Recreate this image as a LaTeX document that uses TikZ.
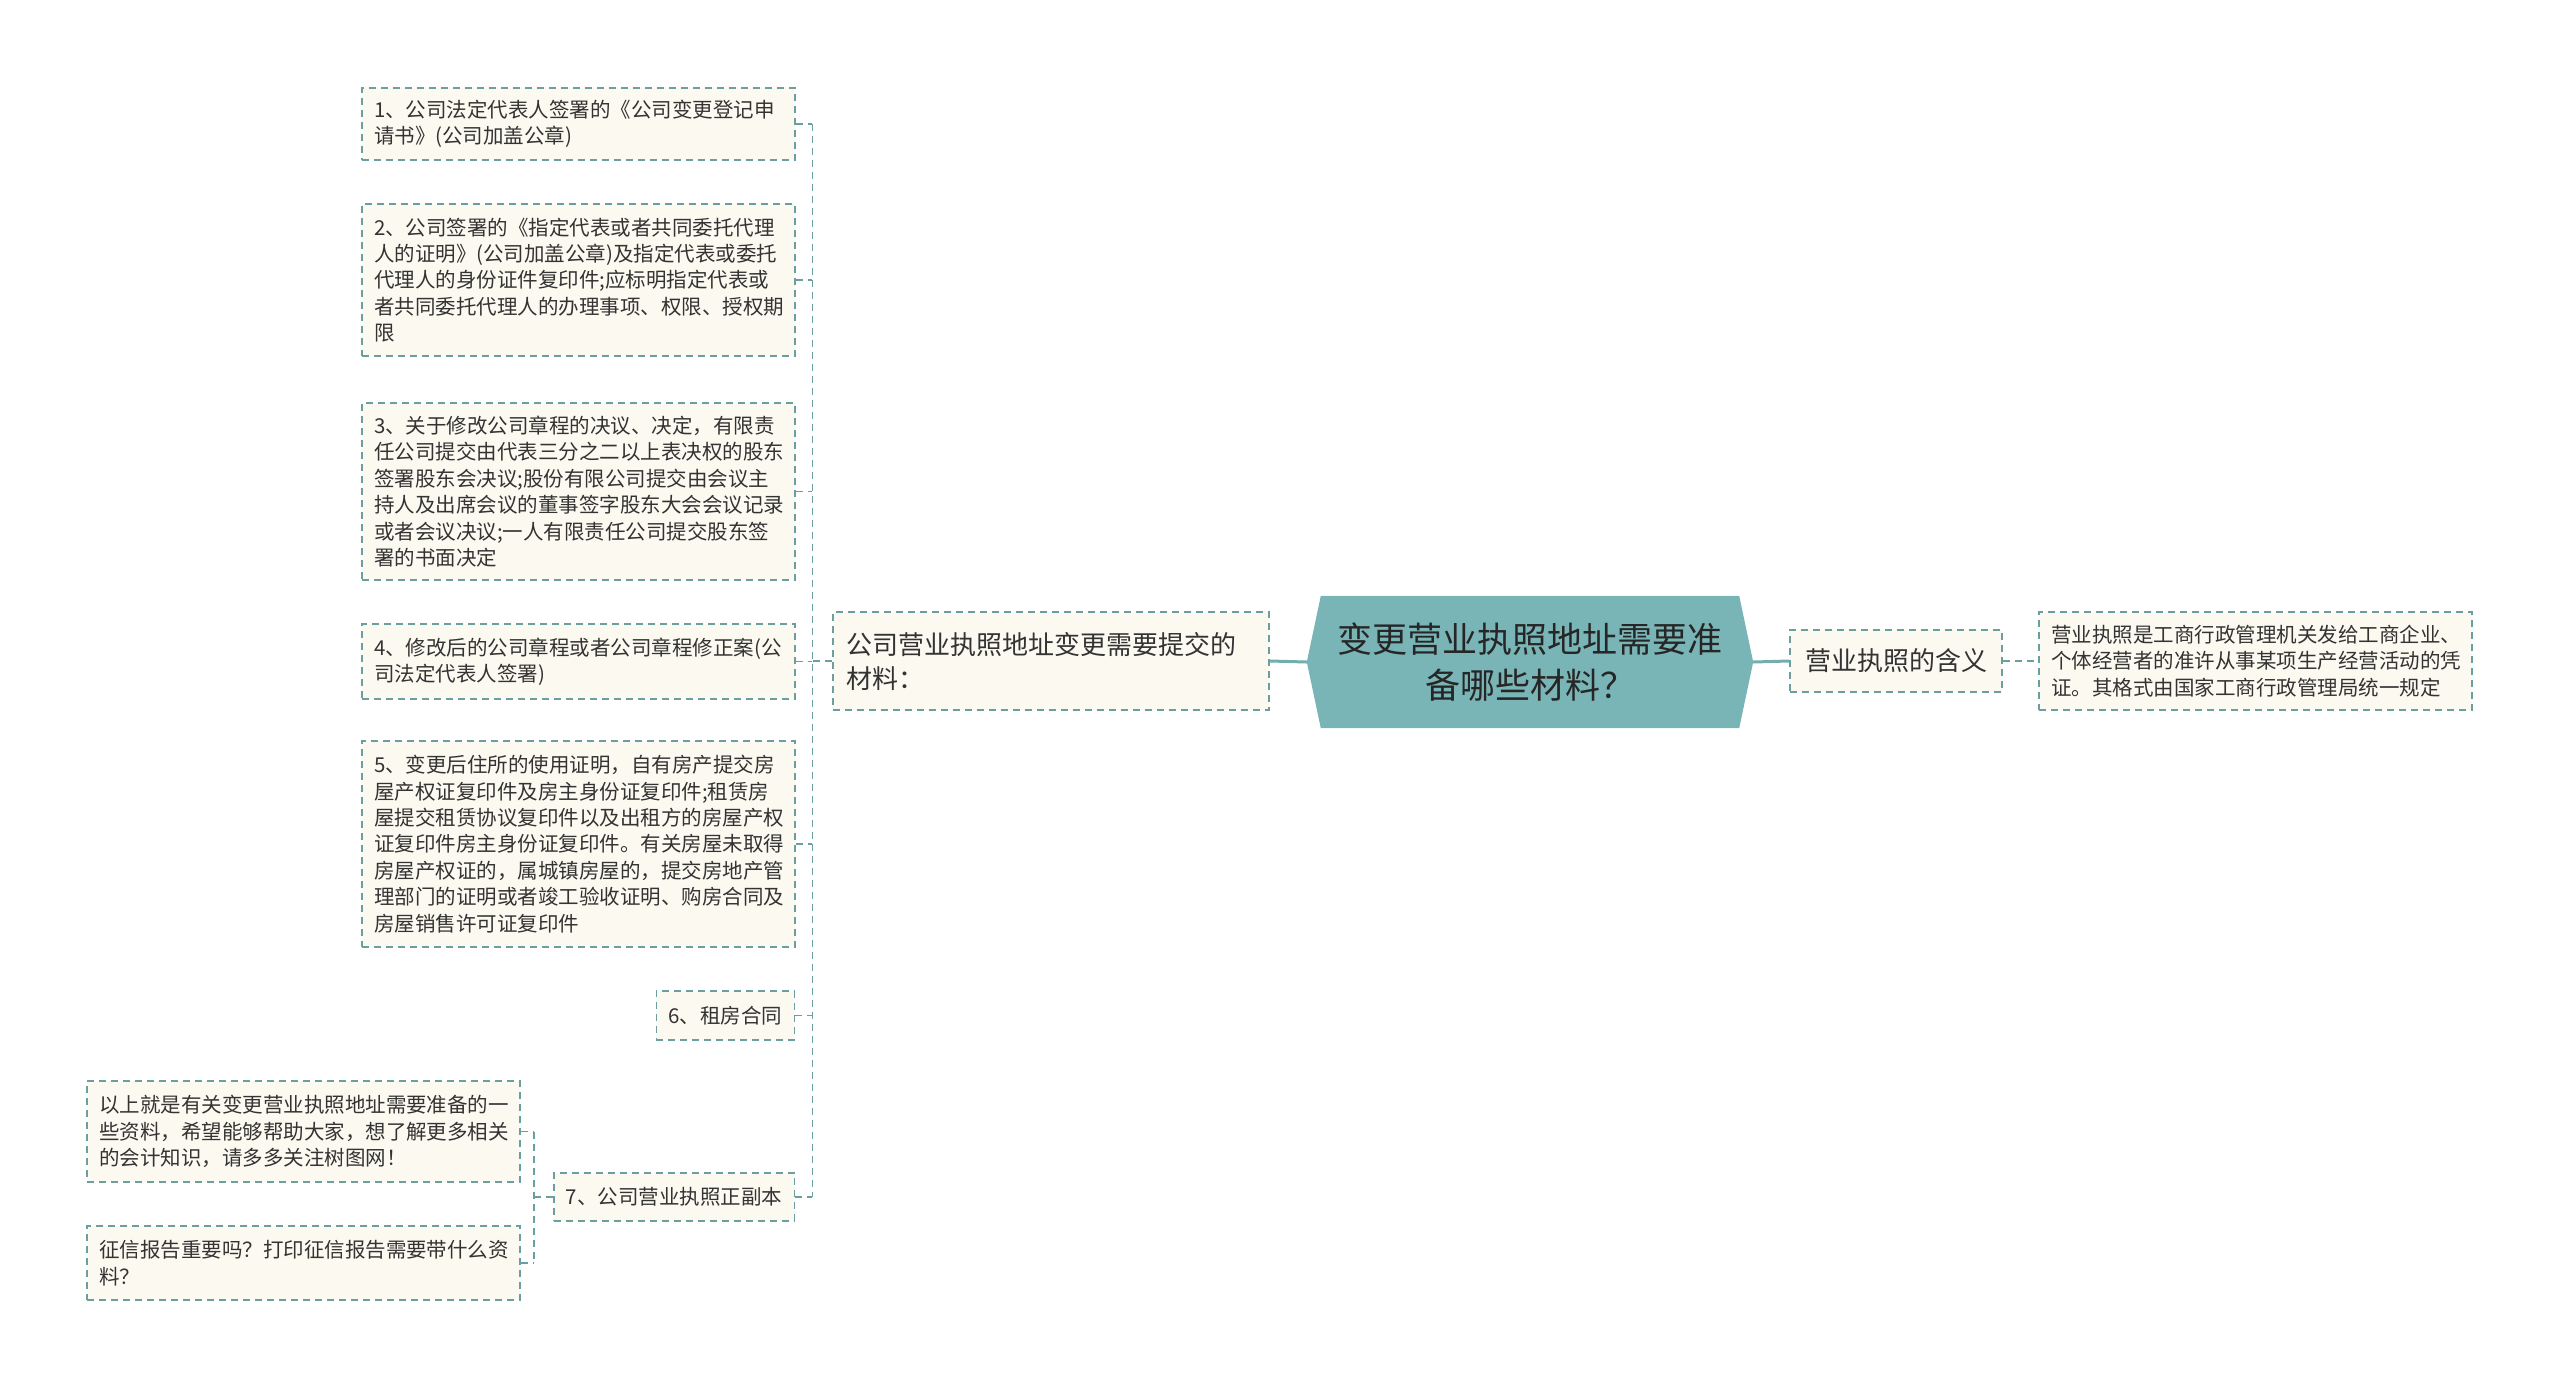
\documentclass[tikz,border=0pt]{standalone}
\usepackage{fontspec}
\setmainfont{Noto Sans CJK SC}
\usetikzlibrary{backgrounds}
\definecolor{dcol}{HTML}{6A9E9F}
\definecolor{rootfill}{HTML}{79B4B6}
\definecolor{solidcol}{HTML}{72ADAF}
\definecolor{boxfill}{HTML}{FBF9F0}
\definecolor{txt}{HTML}{333333}
\tikzset{
  dbox/.style={draw=dcol, line width=1.5pt, dash pattern=on 7pt off 5pt, fill=boxfill, text=txt, inner ysep=3pt},
  leaf/.style={dbox, text width=409pt, inner xsep=12pt, align=left, font=\fontsize{20.5pt}{26.4pt}\selectfont},
  smallleaf/.style={dbox, inner xsep=12pt, align=left, font=\fontsize{20.5pt}{26.4pt}\selectfont},
  midbox/.style={dbox, inner xsep=13pt, align=left, font=\fontsize{26pt}{34pt}\selectfont},
  rootnode/.style={minimum width=418pt, minimum height=132pt, inner sep=0pt, align=center, text=black!85, font=\fontsize{35pt}{46pt}\selectfont},
  conn/.style={draw=dcol, line width=1.5pt, dash pattern=on 7pt off 5pt},
  sconn/.style={draw=solidcol, line width=3pt}
}
\begin{document}
\begin{tikzpicture}[x=1pt,y=-1pt]
\useasboundingbox (0,0) rectangle (2560,1387);
% root
\node[rootnode] (root) at (1530,662) {变更营业执照地址需要准\\备哪些材料？};
\begin{scope}[on background layer]
\fill[rootfill] (root.north west) -- (root.north east) -- ([xshift=14pt]root.east) -- (root.south east) -- (root.south west) -- ([xshift=-14pt]root.west) -- cycle;
\end{scope}
% level 1
\node[midbox, text width=410pt, minimum height=98pt] (mL) at (1051,661) {公司营业执照地址变更需要提交的\\材料：};
\node[midbox, inner xsep=15pt, minimum height=62pt] (mR) at (1896,661) {营业执照的含义};
% right leaf
\node[leaf, minimum height=98pt] (rl) at (2255.5,661) {营业执照是工商行政管理机关发给工商企业、\\个体经营者的准许从事某项生产经营活动的凭\\证。其格式由国家工商行政管理局统一规定};
% left leaves
\node[leaf, minimum height=72pt] (l1) at (578.5,124) {1、公司法定代表人签署的《公司变更登记申\\请书》(公司加盖公章)};
\node[leaf, minimum height=152pt] (l2) at (578.5,280) {2、公司签署的《指定代表或者共同委托代理\\人的证明》(公司加盖公章)及指定代表或委托\\代理人的身份证件复印件;应标明指定代表或\\者共同委托代理人的办理事项、权限、授权期\\限};
\node[leaf, minimum height=177pt] (l3) at (578.5,491.5) {3、关于修改公司章程的决议、决定，有限责\\任公司提交由代表三分之二以上表决权的股东\\签署股东会决议;股份有限公司提交由会议主\\持人及出席会议的董事签字股东大会会议记录\\或者会议决议;一人有限责任公司提交股东签\\署的书面决定};
\node[leaf, minimum height=75pt] (l4) at (578.5,661.5) {4、修改后的公司章程或者公司章程修正案(公\\司法定代表人签署)};
\node[leaf, minimum height=206pt] (l5) at (578.5,844) {5、变更后住所的使用证明，自有房产提交房\\屋产权证复印件及房主身份证复印件;租赁房\\屋提交租赁协议复印件以及出租方的房屋产权\\证复印件房主身份证复印件。有关房屋未取得\\房屋产权证的，属城镇房屋的，提交房地产管\\理部门的证明或者竣工验收证明、购房合同及\\房屋销售许可证复印件};
\node[smallleaf, minimum height=49pt, anchor=east] (l6) at (795,1015.5) {6、租房合同};
\node[smallleaf, minimum height=48pt, anchor=east] (l7) at (795,1197) {7、公司营业执照正副本};
\node[leaf, minimum height=101pt] (l7a) at (303.5,1131.5) {以上就是有关变更营业执照地址需要准备的一\\些资料，希望能够帮助大家，想了解更多相关\\的会计知识，请多多关注树图网！};
\node[leaf, minimum height=74pt] (l7b) at (303.5,1263) {征信报告重要吗？打印征信报告需要带什么资\\料？};
% connectors
\draw[sconn] (root.west) ++(-14pt,0) -- (mL.east);
\draw[sconn] (root.east) ++(14pt,0) -- (mR.west);
\draw[conn] (mR.east) -- (rl.west);
\coordinate (tk) at ([xshift=-20pt]mL.west);
\draw[conn] (mL.west) -- (tk);
\draw[conn] (tk |- l1.east) -- (tk |- l7.east);
\foreach \n in {l1,l2,l3,l4,l5,l6,l7} {
  \draw[conn] (\n.east) -- (tk |- \n.east);
}
\coordinate (tk2) at ([xshift=-19pt]l7.west);
\draw[conn] (l7.west) -- (tk2);
\draw[conn] (tk2 |- l7a.east) -- (tk2 |- l7b.east);
\draw[conn] (l7a.east) -- (tk2 |- l7a.east);
\draw[conn] (l7b.east) -- (tk2 |- l7b.east);
\end{tikzpicture}
\end{document}
